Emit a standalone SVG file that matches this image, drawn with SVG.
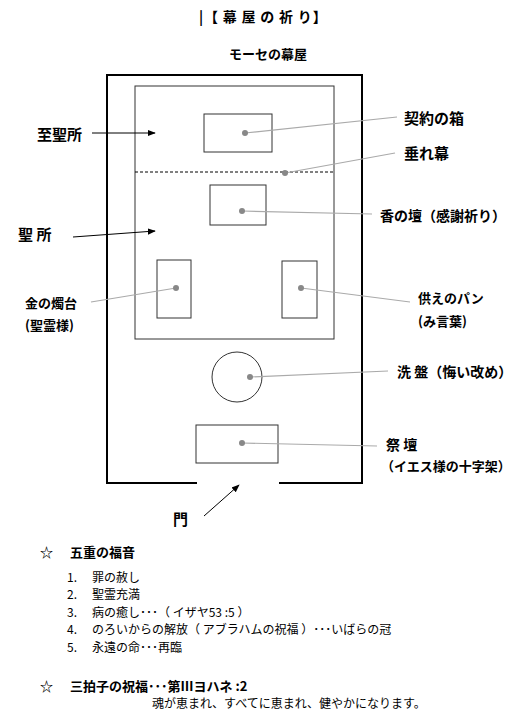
<svg xmlns="http://www.w3.org/2000/svg" width="523" height="715" viewBox="0 0 523 715">
<style>
text{font-family:"Noto Sans CJK JP","Noto Sans CJK SC",sans-serif;fill:#000;dominant-baseline:central}
.b{font-weight:bold;font-size:15px}
.s{font-size:13px;font-weight:bold}
.m{font-size:14px;font-weight:bold}
.n{font-size:12px;font-weight:normal}
.box{fill:#fff;stroke:#333;stroke-width:1}
.lead{stroke:#aaa;stroke-width:1.2;fill:none}
.dot{fill:#888}
.arr{stroke:#000;stroke-width:1;fill:none;marker-end:url(#ah)}
</style>
<defs>
<marker id="ah" viewBox="0 0 10 10" refX="9" refY="5" markerWidth="8" markerHeight="8" orient="auto" markerUnits="userSpaceOnUse">
<path d="M0,1 L10,5 L0,9 z" fill="#000"/>
</marker>
</defs>
<rect width="523" height="715" fill="#fff"/>
<g id="title">
<text class="m" x="199" y="16" letter-spacing="0.8">|【 幕 屋 の 祈 り】</text>
<text class="s" x="229" y="53">モーセの幕屋</text>
</g>
<g id="tabernacle">
<path d="M197,483 L107,483 L107,75 L362,75 L362,483 L279,483" fill="none" stroke="#000" stroke-width="2"/>
<rect x="135" y="86" width="199" height="253" fill="none" stroke="#333" stroke-width="1"/>
<line x1="135" y1="172" x2="334" y2="172" stroke="#000" stroke-width="1" stroke-dasharray="3,2"/>
</g>
<g id="ark"><rect class="box" x="204" y="114" width="68" height="38"/></g>
<g id="incense"><rect class="box" x="210" y="185" width="56" height="40"/></g>
<g id="lampstand"><rect class="box" x="157" y="260" width="34" height="58"/></g>
<g id="bread"><rect class="box" x="282" y="261" width="35" height="57"/></g>
<g id="laver"><circle cx="237" cy="377" r="25" fill="#fff" stroke="#333" stroke-width="1"/></g>
<g id="altar"><rect class="box" x="196" y="425" width="82" height="38"/></g>
<g id="connectors">
<line class="lead" x1="245" y1="133" x2="397" y2="117"/>
<line class="lead" x1="285" y1="173" x2="395" y2="153"/>
<line class="lead" x1="242" y1="211" x2="372" y2="214"/>
<line class="lead" x1="176" y1="288" x2="91" y2="302"/>
<line class="lead" x1="301" y1="288" x2="410" y2="302"/>
<line class="lead" x1="250" y1="377" x2="388" y2="371"/>
<line class="lead" x1="242" y1="443" x2="377" y2="446"/>
<circle class="dot" cx="245" cy="133" r="3"/>
<circle class="dot" cx="285" cy="173" r="3"/>
<circle class="dot" cx="242" cy="211" r="3"/>
<circle class="dot" cx="176" cy="288" r="3"/>
<circle class="dot" cx="301" cy="288" r="3"/>
<circle class="dot" cx="250" cy="377" r="3"/>
<circle class="dot" cx="242" cy="443" r="3"/>
<line class="arr" x1="92" y1="133" x2="155" y2="133"/>
<line class="arr" x1="73" y1="237" x2="155" y2="231"/>
<line class="arr" x1="204" y1="516" x2="239" y2="485"/>
</g>
<g id="labels">
<text class="b" x="37" y="133">至聖所</text>
<text class="b" x="404" y="117">契約の箱</text>
<text class="b" x="404" y="152">垂れ幕</text>
<text class="m" x="380" y="215">香の壇（感謝祈り）</text>
<text class="b" x="18" y="233">聖 所</text>
<text class="s" x="25" y="302">金の燭台</text>
<text class="s" x="25" y="324">(聖霊様)</text>
<text class="s" x="418" y="297">供えのパン</text>
<text class="s" x="418" y="320">(み言葉)</text>
<text class="m" x="397" y="371">洗 盤（悔い改め）</text>
<text class="m" x="386" y="444">祭 壇</text>
<text class="s" x="381" y="465">（イエス様の十字架）</text>
<text class="b" x="173" y="518">門</text>
</g>
<g id="notes">
<text class="s" x="40" y="551">☆</text>
<text class="s" x="70" y="551">五重の福音</text>
<text class="n" x="67" y="576">1.</text><text class="n" x="92" y="576">罪の赦し</text>
<text class="n" x="67" y="593.5">2.</text><text class="n" x="92" y="593.5">聖霊充満</text>
<text class="n" x="67" y="611">3.</text><text class="n" x="92" y="611">病の癒し･･･（ イザヤ53 :5 ）</text>
<text class="n" x="67" y="628.5">4.</text><text class="n" x="92" y="628.5">のろいからの解放（ アブラハムの祝福 ）･･･いばらの冠</text>
<text class="n" x="67" y="646">5.</text><text class="n" x="92" y="646">永遠の命･･･再臨</text>
<text class="s" x="40" y="685">☆</text>
<text class="s" x="70" y="685">三拍子の祝福･･･第Ⅲヨハネ :2</text>
<text class="n" x="152" y="702">魂が恵まれ、すべてに恵まれ、健やかになります。</text>
</g>
</svg>
